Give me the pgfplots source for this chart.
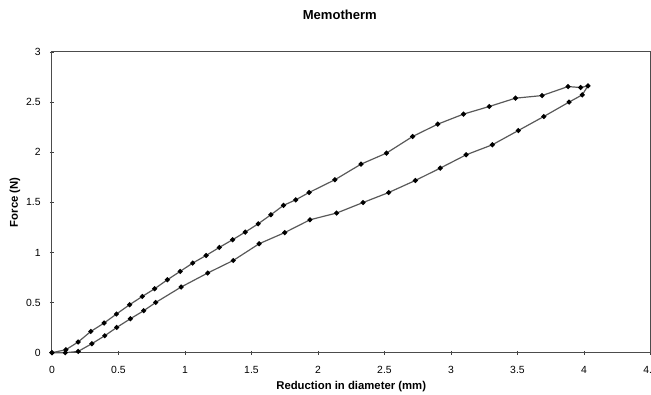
\documentclass[border=0pt]{standalone}
\usepackage{pgfplots}
\pgfplotsset{compat=1.18}
\usepackage{fontspec}
\setmainfont{Liberation Sans}
\usetikzlibrary{calc}
\begin{document}
\begin{tikzpicture}
\begin{axis}[
  scale only axis,
  width=449.25pt, height=225.75pt,
  xmin=0, xmax=4.5, ymin=0, ymax=3,
  xtick={0,0.5,1,1.5,2,2.5,3,3.5,4,4.5},
  ytick={0,0.5,1,1.5,2,2.5,3},
  xticklabels={0,0.5,1,1.5,2,2.5,3,3.5,4,4.5},
  yticklabels={0,0.5,1,1.5,2,2.5,3},
  tick align=center,
  major tick length=3pt,
  xtick pos=bottom, ytick pos=left,
  tick style={color=black!75, line width=0.5pt},
  axis line style={color=black!70, line width=0.7pt},
  ticklabel style={font=\fontsize{7.8}{9}\selectfont},
  xticklabel style={yshift=-5pt},
  yticklabel style={xshift=-3.5pt},
  title={Memotherm},
  title style={at={(rel axis cs:0.481,1.0797)}, anchor=base, font=\fontsize{9.8}{11}\selectfont\bfseries},
  xlabel={Reduction in diameter (mm)},
  xlabel style={at={(rel axis cs:0.5,-0.1229)}, anchor=base, font=\fontsize{8.5}{10}\selectfont\bfseries},
  ylabel={Force (N)},
  ylabel style={at={(rel axis cs:-0.0618,0.5)}, anchor=center, font=\fontsize{8.5}{10}\selectfont\bfseries},
  clip=false,
]
\addplot[color=black!65, line width=0.9pt, mark=*, mark size=1.4pt,
  mark options={fill=black, draw=black}] coordinates {
(0,0) (0.1,0) (0.197,0.013) (0.30,0.09) (0.397,0.169) (0.487,0.252)
(0.59,0.339) (0.69,0.419) (0.78,0.501) (0.971,0.655) (1.171,0.795)
(1.363,0.920) (1.558,1.087) (1.75,1.198) (1.94,1.326) (2.14,1.393)
(2.339,1.498) (2.532,1.598) (2.732,1.718) (2.919,1.841) (3.114,1.974)
(3.311,2.074) (3.506,2.216) (3.698,2.356) (3.888,2.500) (3.987,2.572)
(4.03,2.662) (3.975,2.645) (3.88,2.655) (3.685,2.565) (3.485,2.539)
(3.288,2.456) (3.094,2.380) (2.901,2.280) (2.712,2.157) (2.515,1.991)
(2.324,1.881) (2.127,1.725) (1.933,1.598) (1.833,1.525) (1.741,1.47)
(1.646,1.376) (1.551,1.286) (1.453,1.203) (1.358,1.127) (1.258,1.050)
(1.159,0.970) (1.058,0.894) (0.964,0.811) (0.868,0.728) (0.772,0.638)
(0.679,0.561) (0.584,0.479) (0.485,0.386) (0.392,0.296) (0.292,0.212)
(0.197,0.107) (0.105,0.03) (0,0)
};
\end{axis}
\pgfresetboundingbox
\path[use as bounding box] ($(current axis.south west)+(-39pt,-31.5pt)$) rectangle ($(current axis.north east)+(0.4pt,39pt)$);
\end{tikzpicture}
\end{document}
